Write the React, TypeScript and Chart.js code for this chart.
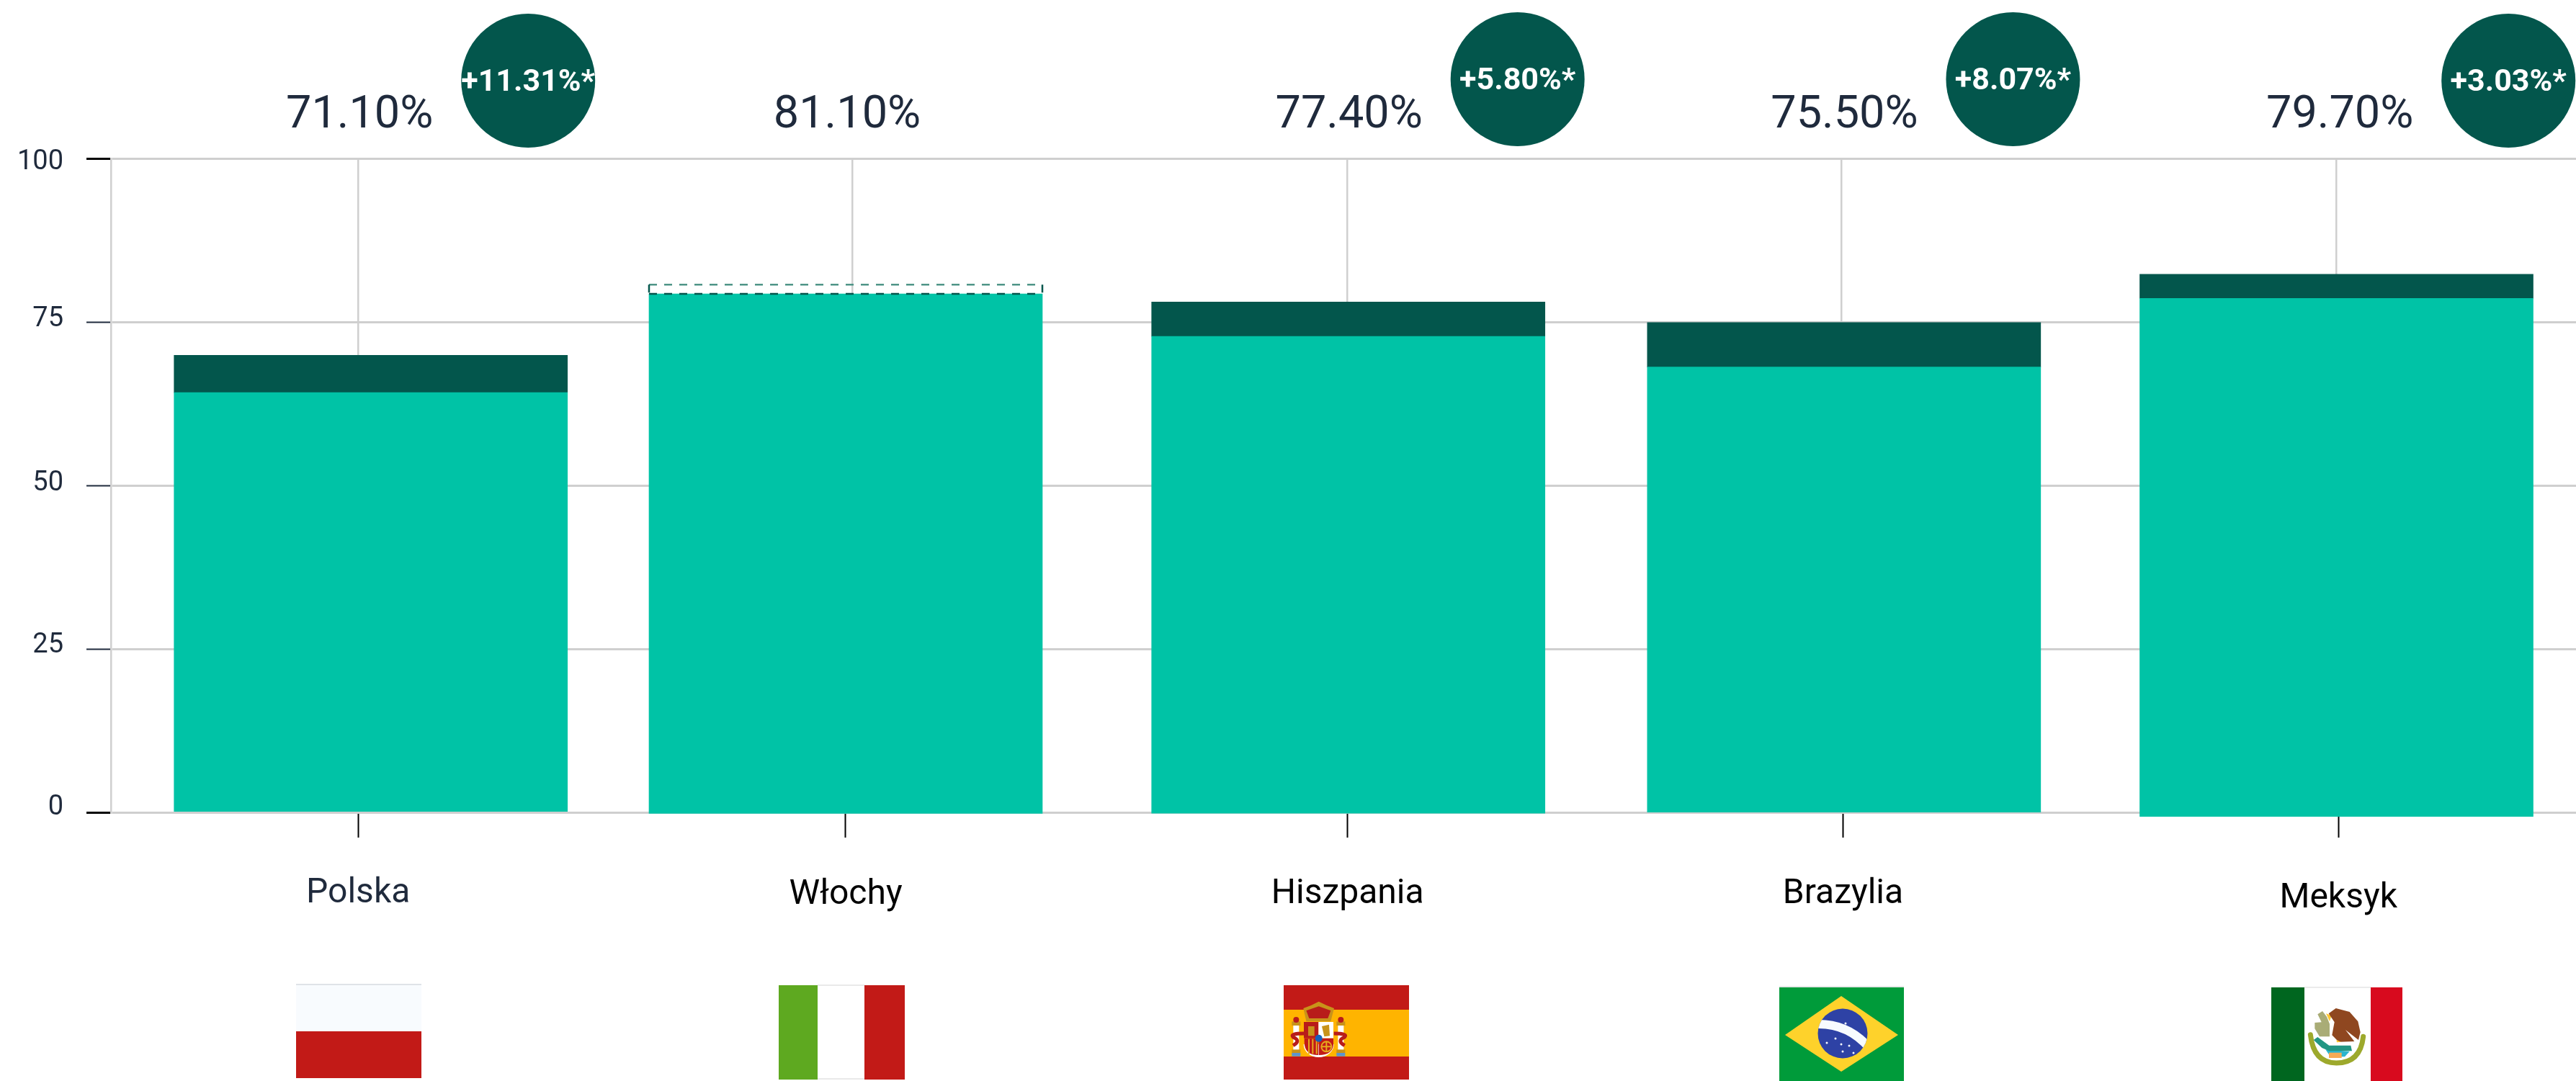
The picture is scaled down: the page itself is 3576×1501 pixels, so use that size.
import React, { useEffect, useRef } from "react";
import { Chart, registerables } from "chart.js";

Chart.register(...registerables);

// ---------- data ----------
const categories = ["Polska", "Włochy", "Hiszpania", "Brazylia", "Meksyk"];
const valueLabels = ["71.10%", "81.10%", "77.40%", "75.50%", "79.70%"];
const badgeLabels = ["+11.31%*", null, "+5.80%*", "+8.07%*", "+3.03%*"];
const barBase = [0.14, -0.17, -0.13, 0.03, -0.63];
const lowerValues = [64.2, 79.3, 72.8, 68.1, 78.6];
const upperValues = [69.9, 80.7, 78.06, 74.9, 82.3];
const barCentres = [0.0255, 0.986, 2.0025, 3.005, 4.001];
const tickCentres = [0, 0.986, 2.001, 3.003, 4.005];
const yTicks = [0, 25, 50, 75, 100];

// ---------- style ----------
const TEAL = "#00c3a6";
const DARK = "#03564c";
const INK = "#1f2a3c";
const GRID = "#cfcfcf";
const FONT = "Roboto";
const xLabelShift = [0, 2, 1, 1.5, 7];
const yLabelShift: Record<number, number> = { 0: -7, 25: -5, 50: -3, 75: -4, 100: 5 };

function rect(c: CanvasRenderingContext2D, col: string, x0: number, y0: number, x1: number, y1: number) {
  c.fillStyle = col;
  c.fillRect(x0, y0, x1 - x0, y1 - y0);
}
function poly(c: CanvasRenderingContext2D, col: string, pts: number[][]) {
  c.fillStyle = col;
  c.beginPath();
  pts.forEach(([x, y], i) => (i ? c.lineTo(x, y) : c.moveTo(x, y)));
  c.closePath();
  c.fill();
}

function drawFlags(c: CanvasRenderingContext2D) {
  // Poland
  rect(c, "#dfe3e8", 411, 1366, 585, 1368);
  rect(c, "#f8fbfe", 411, 1368, 585, 1432);
  rect(c, "#c21a17", 411, 1432, 585, 1497);
  // Italy
  rect(c, "#ffffff", 1135, 1368, 1200, 1499);
  rect(c, "#e9e9e9", 1135, 1367, 1200, 1369);
  rect(c, "#e9e9e9", 1135, 1497, 1200, 1499);
  rect(c, "#5ea920", 1081, 1368, 1135, 1499);
  rect(c, "#c21a17", 1200, 1368, 1256, 1499);
  // Spain
  const sx = (v: number) => 1760 + v / 3;
  const sy = (v: number) => 1350 + v / 3;
  rect(c, "#c21a17", 1782, 1368, 1956, 1499);
  rect(c, "#ffb400", 1782, 1402, 1956, 1467);
  poly(c, "#c8931a", [[sx(148), sy(150)], [sx(180), sy(138)], [sx(212), sy(122)], [sx(245), sy(138)], [sx(276), sy(150)], [sx(262), sy(205)], [sx(160), sy(205)]]);
  poly(c, "#b81c1a", [[sx(160), sy(160)], [sx(212), sy(142)], [sx(262), sy(160)], [sx(250), sy(192)], [sx(172), sy(192)]]);
  [118, 304].forEach((x) => {
    const X = sx(x);
    rect(c, "#ffffff", X - 4, sy(215), X + 4, sy(325));
    rect(c, "#c8931a", X - 6, sy(205), X + 6, sy(222));
    rect(c, "#c8931a", X - 6, sy(322), X + 6, sy(338));
    rect(c, "#5d94cc", X - 6, sy(336), X + 6, sy(350));
    c.fillStyle = "#b81c1a";
    c.beginPath();
    c.arc(X, sy(198), 4, 0, Math.PI * 2);
    c.fill();
  });
  c.strokeStyle = "#b81c1a";
  c.lineWidth = 5;
  c.beginPath();
  c.moveTo(sx(150), sy(255));
  c.quadraticCurveTo(sx(90), sy(255), sx(105), sy(270));
  c.quadraticCurveTo(sx(140), sy(285), sx(105), sy(305));
  c.moveTo(sx(275), sy(255));
  c.quadraticCurveTo(sx(335), sy(255), sx(320), sy(270));
  c.quadraticCurveTo(sx(285), sy(285), sx(320), sy(305));
  c.stroke();
  c.fillStyle = "#ffffff";
  c.beginPath();
  c.ellipse(sx(212), sy(300), 21, 18, 0, 0, Math.PI);
  c.fill();
  rect(c, "#b81c1a", sx(150), sy(207), sx(211), sy(275));
  rect(c, "#ffffff", sx(211), sy(207), sx(273), sy(275));
  rect(c, "#c8931a", sx(168), sy(225), sx(194), sy(265));
  poly(c, "#c8931a", [[sx(225), sy(225)], [sx(255), sy(218)], [sx(258), sy(265)], [sx(235), sy(268)]]);
  c.fillStyle = "#c21a17";
  c.beginPath();
  c.moveTo(sx(152), sy(275));
  c.lineTo(sx(211), sy(275));
  c.lineTo(sx(211), sy(345));
  c.quadraticCurveTo(sx(152), sy(345), sx(152), sy(290));
  c.fill();
  for (let i = 0; i < 3; i++) rect(c, "#e5a91e", sx(168 + i * 16), sy(278), sx(174 + i * 16), sy(340));
  c.fillStyle = "#c21a17";
  c.beginPath();
  c.moveTo(sx(213), sy(275));
  c.lineTo(sx(273), sy(275));
  c.lineTo(sx(273), sy(300));
  c.quadraticCurveTo(sx(270), sy(345), sx(213), sy(345));
  c.fill();
  c.strokeStyle = "#e5a91e";
  c.lineWidth = 2;
  c.beginPath();
  c.arc(sx(244), sy(310), 7, 0, Math.PI * 2);
  c.moveTo(sx(222), sy(310));
  c.lineTo(sx(266), sy(310));
  c.moveTo(sx(244), sy(288));
  c.lineTo(sx(244), sy(332));
  c.stroke();
  c.fillStyle = "#1560bd";
  c.beginPath();
  c.arc(sx(212), sy(275), 5, 0, Math.PI * 2);
  c.fill();
  // Brazil
  rect(c, "#e8e8e8", 2470, 1369, 2643, 1371);
  rect(c, "#009b3a", 2470, 1371, 2643, 1501);
  poly(c, "#fed22b", [[2478, 1437], [2556, 1383], [2635, 1437], [2556, 1488]]);
  c.save();
  c.beginPath();
  c.arc(2558, 1435, 34.5, 0, Math.PI * 2);
  c.fillStyle = "#2e42a5";
  c.fill();
  c.clip();
  c.strokeStyle = "#f7fbff";
  c.lineWidth = 12;
  c.beginPath();
  c.moveTo(2520, 1422);
  c.quadraticCurveTo(2565, 1420, 2595, 1455);
  c.stroke();
  c.fillStyle = "#f7fbff";
  [[2548, 1442], [2556, 1450], [2567, 1452], [2573, 1462], [2558, 1460], [2566, 1472], [2562, 1421], [2536, 1448]].forEach(([x, y]) => {
    c.beginPath();
    c.arc(x, y, 1.5, 0, Math.PI * 2);
    c.fill();
  });
  c.restore();
  // Mexico
  const mx = (v: number) => 3130 + v / 3;
  const my = (v: number) => 1350 + v / 3;
  rect(c, "#ffffff", 3199, 1371, 3291, 1501);
  rect(c, "#ebebeb", 3199, 1370, 3291, 1372);
  rect(c, "#00661f", 3153, 1371, 3199, 1501);
  rect(c, "#d80a1e", 3291, 1371, 3335, 1501);
  poly(c, "#a9ac76", [[mx(262), my(175)], [mx(282), my(162)], [mx(300), my(185)], [mx(312), my(215)], [mx(312), my(268)], [mx(270), my(268)], [mx(250), my(235)], [mx(250), my(210)], [mx(278), my(208)]]);
  poly(c, "#ffc833", [[mx(297), my(172)], [mx(320), my(180)], [mx(312), my(205)]]);
  poly(c, "#8f4720", [[mx(308), my(172)], [mx(338), my(150)], [mx(395), my(165)], [mx(430), my(205)], [mx(440), my(250)], [mx(432), my(282)], [mx(378), my(240)], [mx(415), my(288)], [mx(350), my(290)], [mx(322), my(262)], [mx(332), my(208)]]);
  poly(c, "#ffc833", [[mx(340), my(282)], [mx(360), my(290)], [mx(342), my(292)]]);
  c.lineCap = "round";
  c.strokeStyle = "#9da92c";
  c.lineWidth = 7;
  c.beginPath();
  c.moveTo(mx(232), my(260));
  c.quadraticCurveTo(mx(245), my(378), mx(340), my(378));
  c.quadraticCurveTo(mx(440), my(378), mx(452), my(268));
  c.stroke();
  c.lineCap = "butt";
  poly(c, "#2bb5cf", [[mx(295), my(322)], [mx(395), my(330)], [mx(375), my(352)], [mx(315), my(352)]]);
  poly(c, "#229683", [[mx(245), my(282)], [mx(262), my(270)], [mx(310), my(305)], [mx(400), my(305)], [mx(405), my(328)], [mx(310), my(328)], [mx(280), my(315)]]);
  rect(c, "#f6aa55", mx(309), my(335), mx(362), my(357));
}

const overlayPlugin = {
  id: "overlay",
  afterUpdate(chart: any) {
    // the reference's axis labels sit a few pixels off their ticks
    chart.scales.x2.getLabelItems().forEach((it: any, i: number) => {
      it.options.translation[1] += xLabelShift[i];
    });
    chart.scales.y.getLabelItems().forEach((it: any, i: number) => {
      it.options.translation[1] += yLabelShift[chart.scales.y.ticks[i].value];
    });
  },
  afterDatasetsDraw(chart: any) {
    const { ctx: c, scales } = chart;
    const x2 = scales.x2;
    c.save();
    // dashed outline of the bar whose upper segment has no fill
    const meta = chart.getDatasetMeta(1);
    upperValues.forEach((_, i) => {
      if (badgeLabels[i] !== null) return;
      const { x, y, base, width } = meta.data[i].getProps(["x", "y", "base", "width"], true);
      const l = x - width / 2;
      const r = x + width / 2;
      c.lineWidth = 2.5;
      c.setLineDash([11, 10]);
      c.strokeStyle = "#4f9587";
      c.beginPath();
      c.moveTo(l, y);
      c.lineTo(r, y);
      c.stroke();
      c.strokeStyle = DARK;
      c.beginPath();
      c.moveTo(l, y);
      c.lineTo(l, base);
      c.moveTo(r, y);
      c.lineTo(r, base);
      c.moveTo(l, base);
      c.lineTo(r, base);
      c.stroke();
      c.setLineDash([]);
    });
    // value labels and badges
    c.textAlign = "center";
    c.textBaseline = "alphabetic";
    categories.forEach((_, i) => {
      const cx = x2.getPixelForValue(tickCentres[i]);
      c.fillStyle = INK;
      c.font = `400 63px ${FONT}`;
      c.fillText(valueLabels[i], cx + 2, 177);
      const badge = badgeLabels[i];
      if (badge) {
        const bx = cx + 236;
        const by = i === 0 || i === 4 ? 112 : 110;
        c.fillStyle = DARK;
        c.beginPath();
        c.arc(bx, by, 93, 0, Math.PI * 2);
        c.fill();
        c.fillStyle = "#ffffff";
        c.font = `700 43px ${FONT}`;
        c.fillText(badge, bx, by + 14);
      }
    });
    drawFlags(c);
    c.restore();
  },
};

export default function App() {
  const ref = useRef<HTMLCanvasElement>(null);
  useEffect(() => {
    document.body.style.margin = "0";
    const chart = new Chart(ref.current as HTMLCanvasElement, {
      type: "bar",
      data: {
        datasets: [
          {
            label: "Wartość",
            xAxisID: "x2",
            clip: false,
            backgroundColor: TEAL,
            data: categories.map((_, i) => ({ x: barCentres[i], y: [barBase[i], lowerValues[i]] })),
          },
          {
            label: "Wzrost",
            xAxisID: "x2",
            clip: false,
            backgroundColor: badgeLabels.map((b) => (b ? DARK : "rgba(0,0,0,0)")),
            data: categories.map((_, i) => ({ x: barCentres[i], y: [lowerValues[i], upperValues[i]] })),
          },
        ] as any,
      },
      options: {
        animation: false,
        responsive: false,
        maintainAspectRatio: false,
        events: [],
        datasets: { bar: { grouped: false, barThickness: 546, borderWidth: 0, borderSkipped: false } },
        layout: { padding: { top: 220, right: 14, left: 0, bottom: 0 } },
        plugins: { legend: { display: false }, tooltip: { enabled: false }, title: { display: false } },
        scales: {
          x: {
            type: "category",
            labels: categories,
            position: "bottom",
            offset: true,
            afterFit: (s: any) => { s.height = 0; },
            ticks: { display: false },
            border: { display: false },
            grid: { color: GRID, lineWidth: 2.5, drawTicks: false, offset: false },
          },
          x2: {
            type: "linear",
            position: "bottom",
            offset: false,
            min: -0.5,
            max: 4.5,
            afterBuildTicks: (s: any) => { s.ticks = tickCentres.map((value) => ({ value })); },
            afterFit: (s: any) => { s.height = 373; },
            ticks: {
              autoSkip: false,
              maxRotation: 0,
              padding: 49,
              color: (ctx: any) => (ctx.index === 0 ? INK : "#000000"),
              font: { family: FONT, size: 48, weight: "400" as any },
              callback: (_v: any, i: number) => categories[i],
            },
            border: { display: false },
            grid: { offset: false, drawOnChartArea: false, tickLength: 35, tickColor: "#000000", tickWidth: 2 },
          },
          y: {
            type: "linear",
            min: 0,
            max: 100,
            afterBuildTicks: (s: any) => { s.ticks = yTicks.map((value) => ({ value })); },
            afterFit: (s: any) => { s.width = 154; },
            ticks: {
              padding: 32,
              color: INK,
              font: { family: FONT, size: 38, weight: "400" as any },
            },
            border: { display: true, color: GRID, width: 2.5 },
            grid: {
              color: GRID,
              lineWidth: 3,
              tickLength: 34,
              tickColor: (ctx: any) => (ctx.tick && (ctx.tick.value === 0 || ctx.tick.value === 100) ? "#000000" : INK),
              tickWidth: (ctx: any) => (ctx.tick && (ctx.tick.value === 0 || ctx.tick.value === 100) ? 3 : 2),
            },
          },
        },
      },
      plugins: [overlayPlugin],
    } as any);
    return () => chart.destroy();
  }, []);
  return (
    <div style={{ position: "absolute", left: 0, top: 0, width: 3576, height: 1501, overflow: "hidden", background: "#fff" }}>
      <canvas ref={ref} width={3600} height={1501} style={{ display: "block", width: 3600, height: 1501 }} />
    </div>
  );
}
